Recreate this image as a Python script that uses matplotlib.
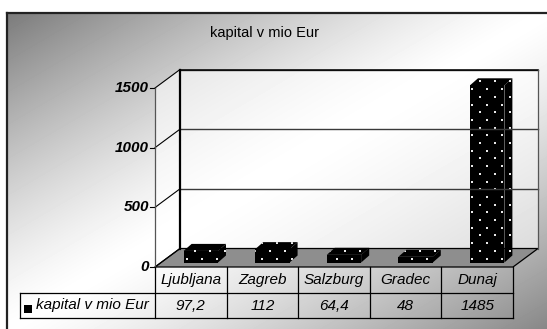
import numpy as np
import matplotlib.pyplot as plt
from matplotlib.patches import Polygon, Rectangle

plt.rcParams['font.family'] = ['Liberation Sans', 'DejaVu Sans']

# podatki
mesta = ["Ljubljana", "Zagreb", "Salzburg", "Gradec", "Dunaj"]
kapital = [97.2, 112, 64.4, 48, 1485]
kapital_txt = ["97,2", "112", "64,4", "48", "1485"]
serija = "kapital v mio Eur"
naslov = "kapital v mio Eur"
yticks = [0, 500, 1000, 1500]

W, H = 547, 329
fig = plt.figure(figsize=(W / 100, H / 100), dpi=100)

# ozadje z gradientom
yy, xx = np.mgrid[0:H, 0:W] + 0.5
t = ((xx - 7) / 540 + (yy - 13) / 316) / 2
d = 2 * t - 1
amp = np.where(d < 0, 0.52, 0.47)
grad = 1 - amp * np.abs(d) ** 1.3
bgimg = grad.copy()
bgimg[(xx < 7) | (yy < 13)] = 1.0

bg = fig.add_axes([0, 0, 1, 1])
bg.imshow(bgimg, cmap="gray", vmin=0, vmax=1, extent=(0, W, H, 0), aspect="auto",
          interpolation="bilinear")
bg.plot([7, 7], [H + 2, 13], color="#222222", lw=1.6)
bg.plot([7, W + 2], [13, 13], color="#222222", lw=1.6)
bg.set_xlim(0, W)
bg.set_ylim(H, 0)
bg.set_axis_off()

# glavna os: x = kategorije, y = vrednosti
PX0, PXC = 155, 71.6      # levi rob in sirina kategorije v px
PY0, PYV = 267, 0.11933   # y pixel za 0 in px na enoto


def px2x(px):
    return -0.5 + (px - PX0) / PXC


def py2v(py):
    return (PY0 - py) / PYV


ax = fig.add_axes([0, 0, 1, 1])
ax.set_axis_off()
ax.patch.set_visible(False)

n = len(mesta)
ymax = yticks[-1]
DX, DY = 25 / PXC, 18.5 / PYV
xl, xr = -0.5, n - 0.5

# stene
back = Polygon([(xl + DX, DY), (xr + DX, DY), (xr + DX, ymax + DY), (xl + DX, ymax + DY)],
               closed=True, fc="none", ec="none")
side = Polygon([(xl, 0), (xl + DX, DY), (xl + DX, ymax + DY), (xl, ymax)],
               closed=True, fc="none", ec="none")
ax.add_patch(back)
ax.add_patch(side)
wall = 1 - 0.45 * (1 - grad)
ext = (px2x(0), px2x(W), py2v(H), py2v(0))
for p in (back, side):
    im = ax.imshow(wall, cmap="gray", vmin=0, vmax=1, extent=ext, aspect="auto",
                   interpolation="bilinear")
    im.set_clip_path(p)

# tla
floor = Polygon([(xl, 0), (xr, 0), (xr + DX, DY), (xl + DX, DY)], closed=True,
                fc="#8e8e8e", ec="black", lw=0.9)
ax.add_patch(floor)

# mreza in os y
for v in yticks:
    if v > 0:
        ax.plot([xl + DX, xr + DX], [v + DY, v + DY], color="#3a3a3a", lw=1.0)
    ax.plot([xl, xl + DX], [v, v + DY], color="black", lw=0.8)
    ax.plot([px2x(150), xl], [v, v], color="black", lw=0.8)
    ax.text(px2x(149), v, str(v), ha="right", va="center", fontsize=11,
            fontweight="bold", fontstyle="italic")
ax.plot([xl, xl], [0, ymax], color="#555555", lw=0.9)
ax.plot([xl + DX, xl + DX], [DY, ymax + DY], color="black", lw=1.6)
ax.plot([xl + DX, xr + DX], [ymax + DY, ymax + DY], color="black", lw=1.1)
ax.plot([xr + DX, xr + DX], [DY, ymax + DY], color="#555555", lw=0.9)

# stolpci (3D)
bx0, by0 = 10 / PXC, 4.5 / PYV   # zamik sprednje ploskve
bdx, bdy = 8 / PXC, 7 / PYV      # globina stolpca
bw = 0.48
xs = np.arange(n) + bx0
ax.bar(xs, kapital, width=bw, bottom=by0, color="black", linewidth=0)

# tockast vzorec (mreza v px)
gx, gy = np.meshgrid(np.arange(0, 80) * 7.5 + 150, np.arange(0, 30) * 7.7 + 66)
gx = gx + 0 * gy
keep = ((np.round((gx - 150) / 7.5) + np.round((gy - 66) / 7.7)) % 2) == 0
dots_x, dots_y = px2x(gx[keep]), py2v(gy[keep])

for x, v in zip(xs, kapital):
    x0, x1 = x - bw / 2, x + bw / 2
    top = Polygon([(x0, v + by0), (x0 + bdx, v + by0 + bdy), (x1 + bdx, v + by0 + bdy),
                   (x1, v + by0)], closed=True, fc="black", ec="none")
    sd = Polygon([(x1, by0), (x1 + bdx, by0 + bdy), (x1 + bdx, v + by0 + bdy),
                  (x1, v + by0)], closed=True, fc="black", ec="none")
    ax.add_patch(top)
    ax.add_patch(sd)
    hexa = Polygon([(x0, by0), (x0, v + by0), (x0 + bdx, v + by0 + bdy),
                    (x1 + bdx, v + by0 + bdy), (x1 + bdx, by0 + bdy), (x1, by0)],
                   closed=True, fc="none", ec="none")
    ax.add_patch(hexa)
    sc = ax.scatter(dots_x, dots_y, s=1.6, c="#e8e8e8", marker="s", linewidths=0)
    sc.set_clip_path(hexa)

# tabela s podatki
r0, r1, r2 = py2v(267), py2v(293), py2v(318)
lx = px2x(20)
ax.plot([lx, xr], [r1, r1], color="black", lw=0.9)
ax.plot([lx, xr], [r2, r2], color="black", lw=0.9)
ax.plot([lx, lx], [r1, r2], color="black", lw=0.9)
for i in range(n + 1):
    ax.plot([i - 0.5, i - 0.5], [r0, r2], color="black", lw=0.9)
for i in range(n):
    ax.text(i, (r0 + r1) / 2, mesta[i], ha="center", va="center", fontsize=11,
            fontstyle="italic")
    ax.text(i, (r1 + r2) / 2, kapital_txt[i], ha="center", va="center", fontsize=11,
            fontstyle="italic")
ax.add_patch(Rectangle((px2x(24), py2v(313)), 8 / PXC, 8 / PYV, fc="black", ec="none"))
ax.text(px2x(36), (r1 + r2) / 2, serija, ha="left", va="center", fontsize=11,
        fontstyle="italic")

# naslov
ax.text(px2x(265), py2v(33), naslov, ha="center", va="center", fontsize=10.5)

ax.set_xlim(px2x(0), px2x(W))
ax.set_ylim(py2v(H), py2v(0))

fig.savefig("out.png", dpi=100)
